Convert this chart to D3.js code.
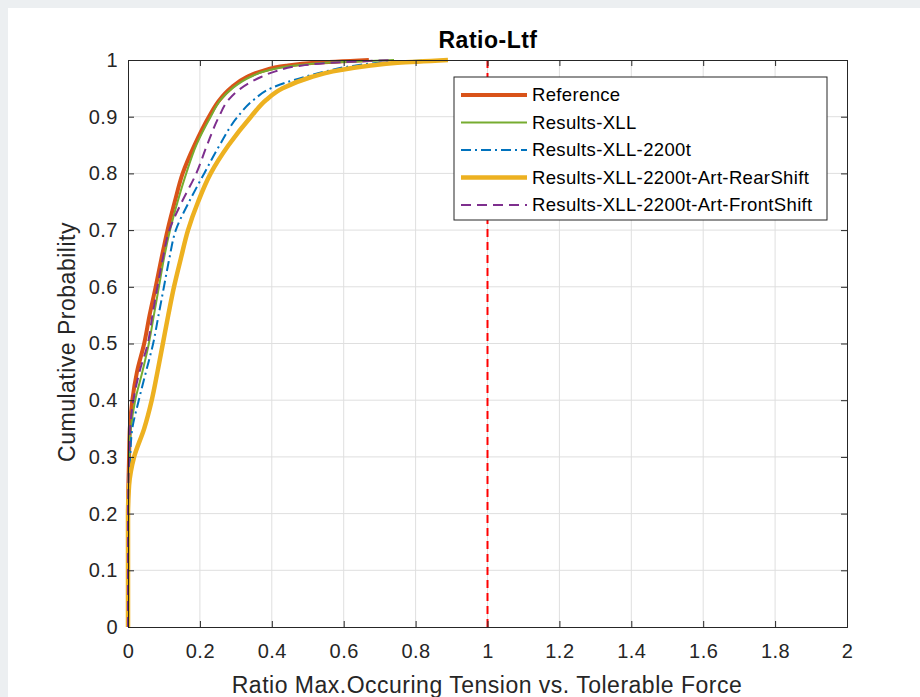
<!DOCTYPE html>
<html>
<head>
<meta charset="utf-8">
<script src="https://cdn.jsdelivr.net/npm/d3@7"></script>
<style>
  body { margin: 0; background: #eceff1; }
  #chart { position: absolute; left: 8px; top: 8px; width: 912px; height: 689px; background: #fff; }
  svg { display: block; font-family: "Liberation Sans", Arial, sans-serif; }
</style>
</head>
<body>
<div id="chart"></div>
<script>
// cumulative probability levels, shared by every series
var probs = [0, 0.1, 0.2, 0.25, 0.3, 0.35, 0.4, 0.45, 0.5, 0.55, 0.6, 0.65, 0.7, 0.75, 0.8, 0.85, 0.9, 0.93, 0.95, 0.97, 0.98, 0.99, 0.995, 1];

// ratio values read at each probability level
var reference   = [0, 0, 0, 0.001, 0.003, 0.005, 0.012, 0.025, 0.045, 0.06, 0.077, 0.093, 0.11, 0.13, 0.152, 0.185, 0.225, 0.255, 0.285, 0.33, 0.37, 0.44, 0.52, 0.67];
var xll         = [0, 0, 0, 0.001, 0.004, 0.008, 0.02, 0.04, 0.058, 0.072, 0.086, 0.1, 0.117, 0.138, 0.162, 0.19, 0.23, 0.258, 0.29, 0.34, 0.38, 0.46, 0.55, 0.74];
var xll2200     = [0, 0, 0, 0.002, 0.006, 0.012, 0.03, 0.05, 0.07, 0.085, 0.1, 0.115, 0.133, 0.17, 0.212, 0.255, 0.305, 0.35, 0.397, 0.49, 0.55, 0.63, 0.7, 0.85];
var rearShift   = [0, 0, 0, 0.003, 0.017, 0.045, 0.066, 0.082, 0.097, 0.112, 0.128, 0.147, 0.167, 0.195, 0.23, 0.28, 0.342, 0.385, 0.43, 0.51, 0.57, 0.67, 0.75, 0.89];
var frontShift  = [0, 0, 0, 0.001, 0.003, 0.006, 0.015, 0.032, 0.055, 0.068, 0.082, 0.097, 0.115, 0.15, 0.19, 0.22, 0.253, 0.28, 0.314, 0.37, 0.41, 0.48, 0.56, 0.74];

var seriesNames = ["Reference", "Results-XLL", "Results-XLL-2200t", "Results-XLL-2200t-Art-RearShift", "Results-XLL-2200t-Art-FrontShift"];
var xTicks = [0, 0.2, 0.4, 0.6, 0.8, 1, 1.2, 1.4, 1.6, 1.8, 2];
var yTicks = [0, 0.1, 0.2, 0.3, 0.4, 0.5, 0.6, 0.7, 0.8, 0.9, 1];
var limitRatio = 1;

var series = [
    {name: seriesNames[0], xs: reference,  color: "#D95319", width: 4,   dash: null},
    {name: seriesNames[1], xs: xll,        color: "#77AC30", width: 2,   dash: null},
    {name: seriesNames[2], xs: xll2200,    color: "#0072BD", width: 2,   dash: "10,4,2,4"},
    {name: seriesNames[3], xs: rearShift,  color: "#EDB120", width: 4.5, dash: null},
    {name: seriesNames[4], xs: frontShift, color: "#7E2F8E", width: 2,   dash: "10,6"}
];

// plot box in page pixels, svg is offset by 8px
var off = 8;
var margin = {left: 128 - off, top: 60 - off};
var width = 847 - 128, height = 627 - 60;

var svg = d3.select("#chart").append("svg")
    .attr("width", 912).attr("height", 689);

var g = svg.append("g").attr("transform", "translate(" + margin.left + "," + margin.top + ")");

var x = d3.scaleLinear().domain([0, 2]).range([0, width]);
var y = d3.scaleLinear().domain([0, 1]).range([height, 0]);

//grid
g.append("g").selectAll("line").data(xTicks.slice(1, -1)).enter().append("line")
    .attr("x1", d => x(d)).attr("x2", d => x(d)).attr("y1", 0).attr("y2", height)
    .attr("stroke", "#dfdfdf").attr("stroke-width", 1);
g.append("g").selectAll("line").data(yTicks.slice(1, -1)).enter().append("line")
    .attr("y1", d => y(d)).attr("y2", d => y(d)).attr("x1", 0).attr("x2", width)
    .attr("stroke", "#dfdfdf").attr("stroke-width", 1);

//curves
var line = d3.line()
    .x(d => x(d[0]))
    .y(d => y(d[1]))
    .curve(d3.curveMonotoneY);

series.forEach(function(s) {
    var pts = s.xs.map((v, i) => [v, probs[i]]);
    g.append("path")
        .attr("d", line(pts))
        .attr("fill", "none")
        .attr("stroke", s.color)
        .attr("stroke-width", s.width)
        .attr("stroke-dasharray", s.dash)
        .attr("stroke-linejoin", "round");
});

//limit line
g.append("line")
    .attr("x1", x(limitRatio)).attr("x2", x(limitRatio))
    .attr("y1", y(0)).attr("y2", y(1))
    .attr("stroke", "#ff0000").attr("stroke-width", 2)
    .attr("stroke-dasharray", "8,5");

//axes, ticks inward on all four sides
var axisColor = "#262626";
var xBottom = g.append("g").attr("transform", "translate(0," + height + ")")
    .call(d3.axisBottom(x).tickValues(xTicks).tickSize(-6).tickPadding(0).tickFormat(d3.format("~g")));
var xTop = g.append("g")
    .call(d3.axisTop(x).tickValues(xTicks).tickSize(-6).tickFormat(""));
var yLeft = g.append("g")
    .call(d3.axisLeft(y).tickValues(yTicks).tickSize(-6).tickPadding(10).tickFormat(d3.format("~g")));
var yRight = g.append("g").attr("transform", "translate(" + width + ",0)")
    .call(d3.axisRight(y).tickValues(yTicks).tickSize(-6).tickFormat(""));

[xBottom, xTop, yLeft, yRight].forEach(function(a) {
    a.select(".domain").attr("stroke", axisColor).attr("stroke-width", 1);
    a.selectAll(".tick line").attr("stroke", axisColor);
    a.selectAll("text").attr("fill", axisColor).attr("font-size", 20)
        .attr("letter-spacing", 0.5)
        .attr("font-family", "Liberation Sans, Arial, sans-serif");
});
xBottom.selectAll("text").attr("y", 31).attr("dy", 0);

//title and labels
svg.append("text")
    .attr("x", 488 - off).attr("y", 48 - off)
    .attr("text-anchor", "middle")
    .attr("font-size", 23).attr("font-weight", "bold").attr("fill", "#000")
    .attr("letter-spacing", 0.5)
    .text("Ratio-Ltf");

svg.append("text")
    .attr("x", 487 - off).attr("y", 693 - off)
    .attr("text-anchor", "middle")
    .attr("font-size", 23).attr("fill", axisColor)
    .attr("letter-spacing", 0.5)
    .text("Ratio Max.Occuring Tension vs. Tolerable Force");

svg.append("text")
    .attr("transform", "translate(" + (75 - off) + "," + (342 - off) + ") rotate(-90)")
    .attr("text-anchor", "middle")
    .attr("font-size", 23).attr("fill", axisColor)
    .attr("letter-spacing", 0.5)
    .text("Cumulative Probability");

//legend
var legend = svg.append("g").attr("transform", "translate(" + (454 - off) + "," + (77 - off) + ")");
legend.append("rect")
    .attr("width", 373).attr("height", 143)
    .attr("fill", "#fff").attr("stroke", axisColor).attr("stroke-width", 1);

var rows = legend.selectAll("g.row").data(series).enter().append("g")
    .attr("class", "row")
    .attr("transform", (d, i) => "translate(0," + (18 + i * 27.5) + ")");
rows.append("line")
    .attr("x1", 7).attr("x2", 73)
    .attr("stroke", d => d.color)
    .attr("stroke-width", d => d.width)
    .attr("stroke-dasharray", d => d.dash);
rows.append("text")
    .attr("x", 78).attr("dy", "0.35em")
    .attr("font-size", 18.5).attr("fill", "#000")
    .attr("letter-spacing", 0.35)
    .text(d => d.name);
</script>
</body>
</html>
